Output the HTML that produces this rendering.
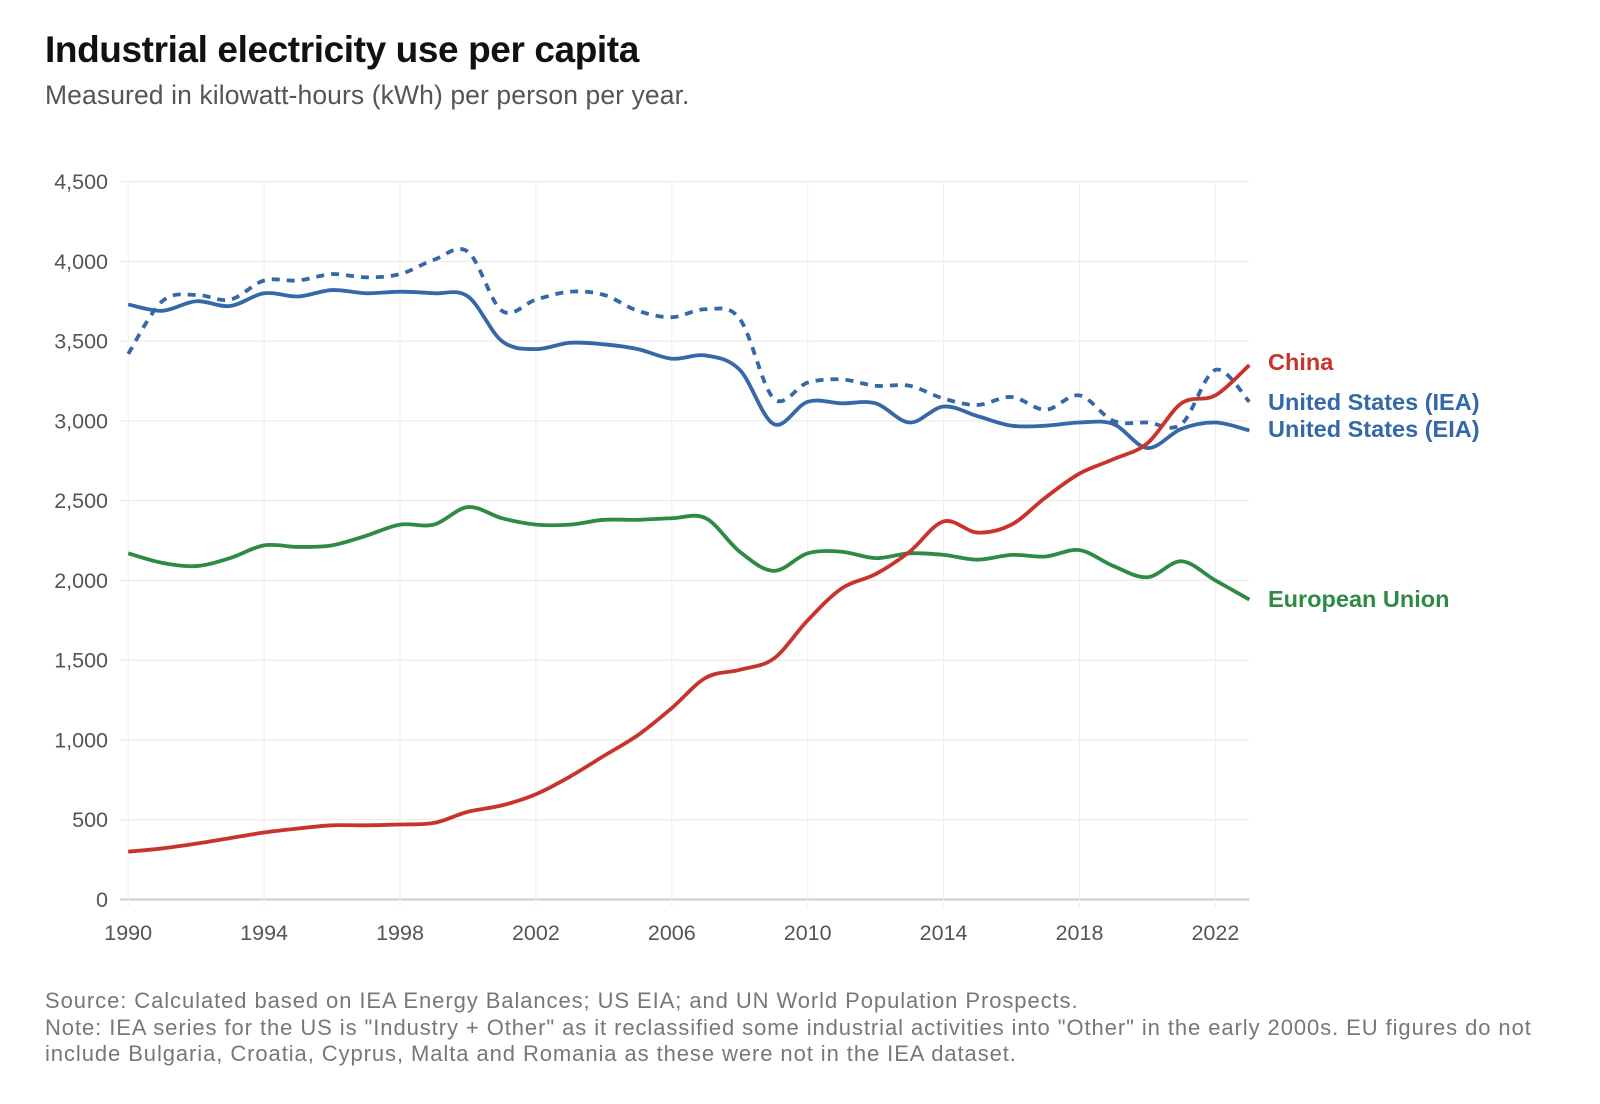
<!DOCTYPE html>
<html><head><meta charset="utf-8"><style>
body{margin:0;background:#fff;font-family:"Liberation Sans",sans-serif;}
#wrap{position:relative;width:1600px;height:1104px;overflow:hidden}
.t{position:absolute;white-space:nowrap}
</style></head><body>
<div id="wrap">
<div class="t" style="left:45px;top:29px;font-size:37px;font-weight:bold;color:#111;letter-spacing:-0.4px">Industrial electricity use per capita</div>
<div class="t" style="left:45px;top:80px;font-size:26.5px;color:#555;letter-spacing:0.1px">Measured in kilowatt-hours (kWh) per person per year.</div>
<svg id="chart" width="1600" height="980" style="position:absolute;left:0;top:0"></svg>
<div class="t" style="left:45px;top:988px;font-size:22px;letter-spacing:0.92px;color:#777;line-height:26.6px">Source: Calculated based on IEA Energy Balances; US EIA; and UN World Population Prospects.<br>Note: IEA series for the US is "Industry + Other" as it reclassified some industrial activities into "Other" in the early 2000s. EU figures do not<br>include Bulgaria, Croatia, Cyprus, Malta and Romania as these were not in the IEA dataset.</div>
</div>
<script>
const years=[];for(let y=1990;y<=2023;y++)years.push(y);
const usEIA=[3730,3690,3750,3720,3800,3780,3820,3800,3810,3800,3780,3500,3450,3490,3480,3450,3390,3410,3320,2980,3120,3110,3110,2990,3090,3030,2970,2970,2990,2980,2830,2950,2990,2940];
const usIEA=[3420,3750,3790,3760,3880,3880,3920,3900,3920,4010,4060,3690,3760,3810,3790,3690,3650,3700,3640,3140,3240,3260,3220,3220,3140,3100,3150,3070,3160,3000,2990,2980,3320,3120];
const china=[300,320,350,385,420,445,465,465,470,480,550,590,660,770,900,1030,1200,1390,1440,1510,1750,1950,2040,2180,2370,2300,2350,2520,2670,2760,2860,3110,3160,3350];
const eu=[2170,2110,2090,2140,2220,2210,2220,2280,2350,2350,2460,2390,2350,2350,2380,2380,2390,2390,2180,2060,2170,2180,2140,2170,2160,2130,2160,2150,2190,2090,2020,2120,2000,1880];
const yTicks=[0,500,1000,1500,2000,2500,3000,3500,4000,4500];
const xTicks=[1990,1994,1998,2002,2006,2010,2014,2018,2022];
const svg=document.getElementById('chart');const NS='http://www.w3.org/2000/svg';
const X=y=>128.2+(y-1990)*(1215.4-128.2)/32;
const Y=v=>899.5-v*(899.5-181.6)/4500;
const XEND=X(2023);
function mk(t,a){const e=document.createElementNS(NS,t);for(const k in a)e.setAttribute(k,a[k]);svg.appendChild(e);return e;}
yTicks.forEach(v=>{
 const l=mk('line',{x1:120,x2:XEND,y1:Y(v),y2:Y(v),stroke:v===0?'#ccc':'#e8e8e8','stroke-width':v===0?2:1});
 
 
 const t=mk('text',{x:108,y:Y(v)+7.5,'text-anchor':'end','font-size':21.5,fill:'#555'});t.textContent=v.toLocaleString('en-US');
 
 
});
xTicks.forEach(y=>{
 const l=mk('line',{x1:X(y),x2:X(y),y1:181.6,y2:907,stroke:'#eee','stroke-width':1});
 
 
 const t=mk('text',{x:X(y),y:940,'text-anchor':'middle','font-size':21.5,fill:'#555'});t.textContent=y;
 
 
});
function path(vals){const p=vals.map((v,i)=>[X(years[i]),Y(v)]);let d='M'+p[0][0]+','+p[0][1];
 for(let i=0;i<p.length-1;i++){const p0=p[Math.max(0,i-1)],p1=p[i],p2=p[i+1],p3=p[Math.min(p.length-1,i+2)];
 d+=` C${p1[0]+(p2[0]-p0[0])/6},${p1[1]+(p2[1]-p0[1])/6} ${p2[0]-(p3[0]-p1[0])/6},${p2[1]-(p3[1]-p1[1])/6} ${p2[0]},${p2[1]}`;}return d;}
const series=[[eu,'#2e8b45','','series-eu'],[usIEA,'#3468a8','8 7','series-us-iea'],[usEIA,'#3468a8','','series-us-eia'],[china,'#c8342b','','series-china']];
series.forEach(s=>{const a={d:path(s[0]),fill:'none',stroke:s[1],'stroke-width':3.8,'stroke-linejoin':'round'};if(s[2])a['stroke-dasharray']=s[2];
 const e=mk('path',a);
 
 });
const labels=[['China','#c8342b',370,'label-china'],['United States (IEA)','#3468a8',410,'label-us-iea'],['United States (EIA)','#3468a8',437,'label-us-eia'],['European Union','#2e8b45',607,'label-eu']];
labels.forEach(l=>{const t=mk('text',{x:1268,y:l[2],'font-size':23.5,'font-weight':'bold',fill:l[1]});t.textContent=l[0];
 
 });
</script>
</body></html>
